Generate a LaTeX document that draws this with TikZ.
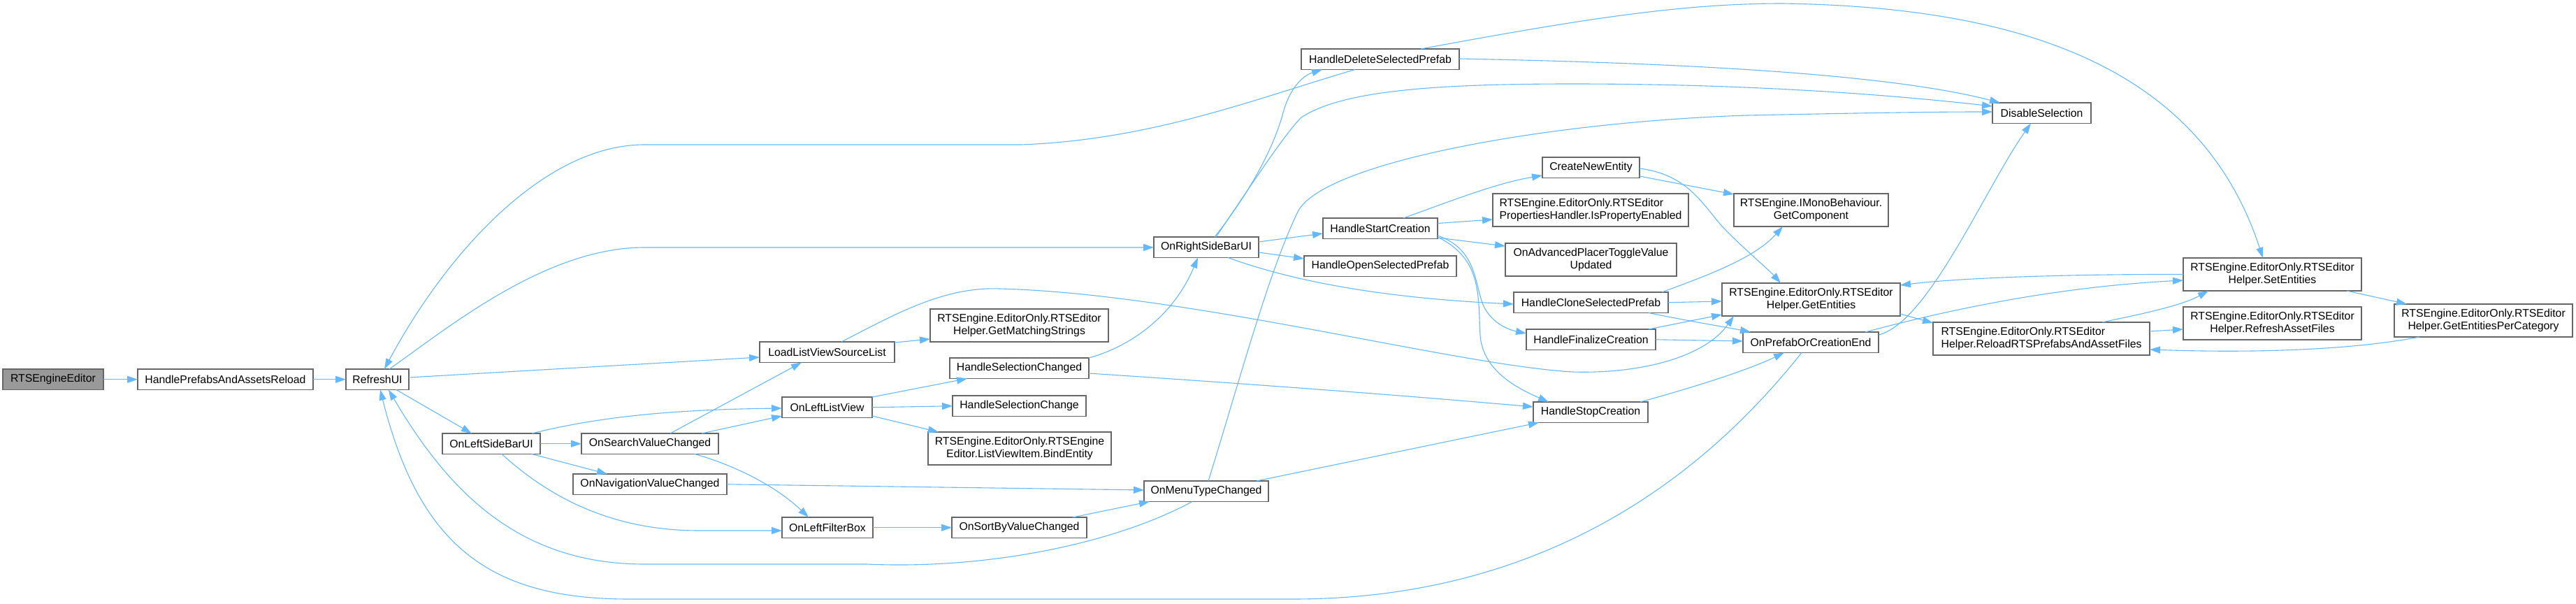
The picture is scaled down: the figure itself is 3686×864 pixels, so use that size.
\documentclass[tikz,border=0pt]{standalone}
\usepackage{fontspec}
\setmainfont{Liberation Sans}
\usetikzlibrary{arrows.meta}
\definecolor{edgec}{HTML}{63B8FF}
\definecolor{boxc}{HTML}{666666}
\definecolor{rootc}{HTML}{999999}
\newcommand\dxfont{\fontsize{15.8}{18.2}\selectfont}
\tikzset{
  box/.style={draw=boxc, line width=1.4pt, fill=white, rectangle, anchor=north west,
    inner sep=0pt, outer sep=0pt, minimum height=29.5pt, font=\dxfont, align=center, text=black},
  two/.style={minimum height=47pt},
  rootbox/.style={box, fill=rootc},
  call/.style={draw=edgec, line width=1.1pt, -{Triangle[length=15pt,width=10pt]}},
}
\begin{document}
\begin{tikzpicture}[x=1pt,y=-1pt]
\useasboundingbox (0,0) rectangle (3686,864);
% nodes
\node[rootbox, minimum width=144pt] (root) at (4,528) {RTSEngineEditor};
\node[box, minimum width=251pt] (hpar) at (197,528) {HandlePrefabsAndAssetsReload};
\node[box, minimum width=90pt] (refresh) at (495,528) {RefreshUI};
\node[box, minimum width=140pt] (leftbar) at (633,620) {OnLeftSideBarUI};
\node[box, minimum width=193pt] (loadlist) at (1087,489) {LoadListViewSourceList};
\node[box, minimum width=129pt] (leftlist) at (1119,568) {OnLeftListView};
\node[box, minimum width=196pt] (search) at (832,620) {OnSearchValueChanged};
\node[box, minimum width=220pt] (navig) at (820,678) {OnNavigationValueChanged};
\node[box, minimum width=130pt] (filter) at (1119,740) {OnLeftFilterBox};
\node[box, minimum width=150pt] (rightbar) at (1651,339) {OnRightSideBarUI};
\node[box, two, minimum width=255pt] (matching) at (1331,442) {RTSEngine.EditorOnly.RTSEditor\\Helper.GetMatchingStrings};
\node[box, minimum width=199pt] (selchanged) at (1359,512) {HandleSelectionChanged};
\node[box, minimum width=191pt] (selchange) at (1363,566) {HandleSelectionChange};
\node[box, two, minimum width=262pt] (bind) at (1328,618) {RTSEngine.EditorOnly.RTSEngine\\Editor.ListViewItem.BindEntity};
\node[box, minimum width=178pt] (menutype) at (1637,688) {OnMenuTypeChanged};
\node[box, minimum width=193pt] (sortby) at (1362,740) {OnSortByValueChanged};
\node[box, minimum width=226pt] (hdelete) at (1862,70) {HandleDeleteSelectedPrefab};
\node[box, minimum width=139pt] (createnew) at (2207,225) {CreateNewEntity};
\node[box, two, align=left, minimum width=280pt] (isprop) at (2136,277) {RTSEngine.EditorOnly.RTSEditor\\PropertiesHandler.IsPropertyEnabled};
\node[box, minimum width=164pt] (hstart) at (1893,312) {HandleStartCreation};
\node[box, two, minimum width=245pt] (advplacer) at (2154,348) {OnAdvancedPlacerToggleValue\\Updated};
\node[box, minimum width=218pt] (hopen) at (1866,366) {HandleOpenSelectedPrefab};
\node[box, minimum width=221pt] (hclone) at (2166,418) {HandleCloneSelectedPrefab};
\node[box, minimum width=185pt] (hfinal) at (2184,471) {HandleFinalizeCreation};
\node[box, minimum width=164pt] (hstop) at (2194,575) {HandleStopCreation};
\node[box, minimum width=141pt] (disable) at (2851,147) {DisableSelection};
\node[box, two, minimum width=221pt] (getcomp) at (2481,277) {RTSEngine.IMonoBehaviour.\\GetComponent};
\node[box, two, minimum width=255pt] (getent) at (2464,405) {RTSEngine.EditorOnly.RTSEditor\\Helper.GetEntities};
\node[box, minimum width=194pt] (prefabend) at (2494,475) {OnPrefabOrCreationEnd};
\node[box, two, align=left, minimum width=310pt] (reload) at (2766,461) {RTSEngine.EditorOnly.RTSEditor\\Helper.ReloadRTSPrefabsAndAssetFiles};
\node[box, two, minimum width=255pt] (setent) at (3124,369) {RTSEngine.EditorOnly.RTSEditor\\Helper.SetEntities};
\node[box, two, minimum width=255pt] (refreshasset) at (3124,439) {RTSEngine.EditorOnly.RTSEditor\\Helper.RefreshAssetFiles};
\node[box, two, minimum width=255pt] (percat) at (3426,435) {RTSEngine.EditorOnly.RTSEditor\\Helper.GetEntitiesPerCategory};
% edges
\draw[call] (root.east) -- (hpar.west);
\draw[call] (hpar.east) -- (refresh.west);
\draw[call] ([shift={(72,29.5)}]refresh.north west) -- ([shift={(42,0)}]leftbar.north west);
\draw[call] ([shift={(90,12)}]refresh.north west) -- ([shift={(0,22)}]loadlist.north west);
\draw[call] ([shift={(62,0)}]refresh.north west) .. controls (640,470) and (780,354) .. (922,354) -- ([shift={(0,15)}]rightbar.north west);
\draw[call] ([shift={(77,29.5)}]hdelete.north west) .. controls (1800,140) and (1650,200) .. (1461,207) -- (922,207) .. controls (780,207) and (640,360) .. ([shift={(55,0)}]refresh.north west);
\draw[call] ([shift={(69,29.5)}]menutype.north west) .. controls (1600,775) and (1420,815) .. (1240,807) -- (922,807) .. controls (740,807) and (640,700) .. ([shift={(61,29.5)}]refresh.north west);
\draw[call] ([shift={(84,29.5)}]prefabend.north west) .. controls (2470,640) and (2250,857) .. (1850,857) -- (900,857) .. controls (700,857) and (600,780) .. ([shift={(49,29.5)}]refresh.north west);
% left side bar
\draw[call] ([shift={(128,0)}]leftbar.north west) .. controls (850,598) and (950,586) .. ([shift={(0,16)}]leftlist.north west);
\draw[call] (leftbar.east) -- (search.west);
\draw[call] ([shift={(128,29.5)}]leftbar.north west) -- ([shift={(49,0)}]navig.north west);
\draw[call] ([shift={(85,29.5)}]leftbar.north west) .. controls (790,715) and (880,759) .. (1000,759) -- ([shift={(0,19)}]filter.north west);
% search
\draw[call] ([shift={(127,0)}]search.north west) -- ([shift={(60,29.5)}]loadlist.north west);
\draw[call] ([shift={(172,0)}]search.north west) -- ([shift={(0,27)}]leftlist.north west);
\draw[call] ([shift={(162,29.5)}]search.north west) .. controls (1050,665) and (1110,695) .. ([shift={(38,0)}]filter.north west);
\draw[call] (navig.east) -- ([shift={(0,13)}]menutype.north west);
\draw[call] (filter.east) -- (sortby.west);
\draw[call] ([shift={(173,0)}]sortby.north west) -- ([shift={(8,29.5)}]menutype.north west);
\draw[call] ([shift={(193,1)}]loadlist.north west) -- ([shift={(0,43)}]matching.north west);
\draw[call] ([shift={(117,0)}]loadlist.north west) .. controls (1280,450) and (1350,410) .. (1430,413) .. controls (1700,420) and (2080,522) .. (2250,532) .. controls (2350,535) and (2440,510) .. ([shift={(17,47)}]getent.north west);
% selection
\draw[call] ([shift={(199,0)}]selchanged.north west) .. controls (1620,495) and (1680,450) .. ([shift={(63,29.5)}]rightbar.north west);
\draw[call] ([shift={(199,22)}]selchanged.north west) .. controls (1800,550) and (2000,565) .. ([shift={(0,7)}]hstop.north west);
\draw[call] ([shift={(129,0)}]leftlist.north west) -- ([shift={(25,29.5)}]selchanged.north west);
\draw[call] (leftlist.east) -- (selchange.west);
\draw[call] ([shift={(129,27)}]leftlist.north west) -- ([shift={(15,0)}]bind.north west);
% menu type
\draw[call] ([shift={(92,0)}]menutype.north west) .. controls (1775,540) and (1815,390) .. (1857,303) .. controls (1890,235) and (2200,175) .. (2500,165) .. controls (2650,162) and (2750,160) .. ([shift={(0,13)}]disable.north west);
\draw[call] ([shift={(161,0)}]menutype.north west) -- ([shift={(8,29.5)}]hstop.north west);
% right side bar
\draw[call] ([shift={(87,0)}]rightbar.north west) .. controls (1800,260) and (1825,200) .. (1835,165) .. controls (1845,125) and (1865,108) .. ([shift={(30,29.5)}]hdelete.north west);
\draw[call] ([shift={(89,0)}]rightbar.north west) .. controls (1800,250) and (1840,190) .. (1862,168) .. controls (1920,130) and (2050,120) .. (2250,120) .. controls (2500,120) and (2700,135) .. ([shift={(0,5)}]disable.north west);
\draw[call] ([shift={(150,7)}]rightbar.north west) -- ([shift={(0,22)}]hstart.north west);
\draw[call] ([shift={(150,22)}]rightbar.north west) -- ([shift={(0,4)}]hopen.north west);
\draw[call] ([shift={(106,29.5)}]rightbar.north west) .. controls (1830,395) and (1950,425) .. ([shift={(0,17)}]hclone.north west);
% start creation
\draw[call] ([shift={(115,0)}]hstart.north west) .. controls (2070,290) and (2140,262) .. ([shift={(0,26)}]createnew.north west);
\draw[call] ([shift={(164,7.5)}]hstart.north west) -- ([shift={(0,37)}]isprop.north west);
\draw[call] ([shift={(164,28)}]hstart.north west) -- ([shift={(0,4)}]advplacer.north west);
\draw[call] ([shift={(164,25)}]hstart.north west) .. controls (2110,355) and (2110,400) .. (2120,430) .. controls (2130,462) and (2160,472) .. ([shift={(0,6)}]hfinal.north west);
\draw[call] ([shift={(164,27)}]hstart.north west) .. controls (2120,370) and (2115,420) .. (2118,480) .. controls (2122,530) and (2170,555) .. ([shift={(22,0)}]hstop.north west);
% create new entity
\draw[call] ([shift={(139,27)}]createnew.north west) -- ([shift={(0,1)}]getcomp.north west);
\draw[call] ([shift={(139,16)}]createnew.north west) .. controls (2420,250) and (2440,300) .. (2470,330) .. controls (2500,360) and (2530,385) .. ([shift={(84,0)}]getent.north west);
% clone
\draw[call] (hclone.east) -- ([shift={(0,26)}]getent.north west);
\draw[call] ([shift={(212,0)}]hclone.north west) .. controls (2440,395) and (2510,370) .. ([shift={(70,47)}]getcomp.north west);
\draw[call] ([shift={(193,29.5)}]hclone.north west) .. controls (2420,460) and (2470,468) .. ([shift={(11,0)}]prefabend.north west);
% finalize
\draw[call] ([shift={(175,0)}]hfinal.north west) -- ([shift={(0,45)}]getent.north west);
\draw[call] (hfinal.east) -- ([shift={(0,13)}]prefabend.north west);
% stop
\draw[call] ([shift={(153,0)}]hstop.north west) .. controls (2420,555) and (2500,530) .. ([shift={(59,29.5)}]prefabend.north west);
% prefab end
\draw[call] ([shift={(194.5,4)}]prefabend.north west) .. controls (2760,460) and (2840,270) .. ([shift={(55,29.5)}]disable.north west);
\draw[call] ([shift={(175,0)}]prefabend.north west) .. controls (2800,440) and (2950,410) .. ([shift={(0,32)}]setent.north west);
% delete
\draw[call] ([shift={(171,0)}]hdelete.north west) .. controls (2250,30) and (2400,5) .. (2550,5) .. controls (2900,10) and (3150,100) .. ([shift={(114,0)}]setent.north west);
\draw[call] ([shift={(226,14)}]hdelete.north west) .. controls (2400,90) and (2700,105) .. ([shift={(11,0)}]disable.north west);
% helpers
\draw[call] ([shift={(255,44)}]getent.north west) -- ([shift={(0,1)}]reload.north west);
\draw[call] (setent.west) .. controls (2950,392) and (2800,398) .. ([shift={(255,3)}]getent.north west);
\draw[call] ([shift={(242,0)}]reload.north west) .. controls (3060,450) and (3120,438) .. ([shift={(36,47)}]setent.north west);
\draw[call] ([shift={(310,13)}]reload.north west) -- ([shift={(0,32)}]refreshasset.north west);
\draw[call] ([shift={(36,47)}]percat.north west) .. controls (3380,498) and (3250,506) .. ([shift={(310,39)}]reload.north west);
\draw[call] ([shift={(234,47)}]setent.north west) -- ([shift={(18,0)}]percat.north west);
\end{tikzpicture}
\end{document}
